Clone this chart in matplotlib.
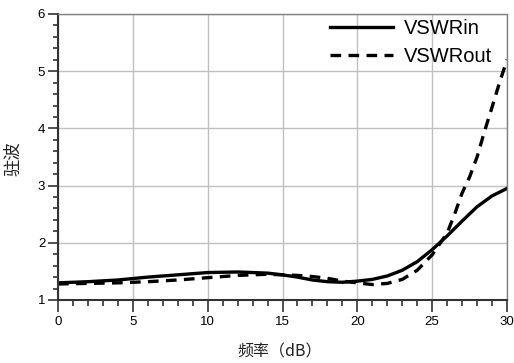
import matplotlib
matplotlib.use("Agg")
import matplotlib.pyplot as plt
from matplotlib.ticker import MultipleLocator

x_in = [0, 2, 4, 6, 8, 10, 12, 14, 15, 16, 17, 18, 19, 20, 21, 22, 23, 24, 25, 26, 27, 28, 29, 30]
vswr_in = [1.30, 1.32, 1.35, 1.40, 1.44, 1.48, 1.49, 1.47, 1.44, 1.40, 1.35, 1.32, 1.31, 1.33, 1.36,
           1.42, 1.52, 1.67, 1.88, 2.12, 2.38, 2.63, 2.82, 2.95]
x_out = [0, 2, 4, 6, 8, 10, 12, 14, 16, 17, 18, 19, 20, 21, 22, 23, 24, 25, 26, 26.5, 27, 27.5, 28,
         28.5, 29, 29.5, 30]
vswr_out = [1.28, 1.29, 1.30, 1.32, 1.35, 1.39, 1.43, 1.45, 1.43, 1.41, 1.38, 1.33, 1.30, 1.27, 1.29,
            1.36, 1.52, 1.79, 2.17, 2.50, 2.87, 3.15, 3.50, 3.95, 4.37, 4.80, 5.20]

plt.rcParams['font.family'] = ['Liberation Sans', 'Noto Sans CJK SC', 'DejaVu Sans']

W, H = 514, 363
fig = plt.figure(figsize=(W / 100, H / 100), dpi=100)
ax = fig.add_axes([58 / W, 1 - 300 / H, 449 / W, 286 / H])

ax.plot(x_in, vswr_in, color='black', lw=2.4, label='VSWRin')
ax.plot(x_out, vswr_out, color='black', lw=2.4, ls=(0, (3.2, 2.2)), label='VSWRout')

ax.set_xlim(0, 30)
ax.set_ylim(1, 6)
ax.xaxis.set_major_locator(MultipleLocator(5))
ax.xaxis.set_minor_locator(MultipleLocator(1))
ax.yaxis.set_major_locator(MultipleLocator(1))
ax.yaxis.set_minor_locator(MultipleLocator(0.2))
ax.grid(True, which='major', color='#c0c0c0', lw=1)
ax.set_axisbelow(True)

ax.tick_params(which='major', direction='out', width=1.2, color='#333333', labelsize=9.5)
ax.tick_params(which='minor', direction='out', width=1.2, color='#333333')
ax.tick_params(axis='y', which='major', length=7.2, pad=2)
ax.tick_params(axis='y', which='minor', length=3.8)
ax.tick_params(axis='x', which='major', length=8.3, pad=3.5)
ax.tick_params(axis='x', which='minor', length=4.5)
for s in ['top', 'right']:
    ax.spines[s].set_color('#808080')
    ax.spines[s].set_linewidth(1)
for s in ['left', 'bottom']:
    ax.spines[s].set_color('#333333')
    ax.spines[s].set_linewidth(1.5)

fig.text(13 / W, 1 - 159 / H, '驻波', rotation=90, ha='center', va='center',
         fontsize=12.5, family=['Noto Sans CJK SC'], color='#222222')
fig.text(280 / W, 1 - 352 / H, '频率（dB）', ha='center', va='center',
         fontsize=11.5, family=['Noto Sans CJK SC', 'Liberation Sans'], color='#222222')

leg = ax.legend(loc='upper right', bbox_to_anchor=((492 - 58) / 449, 1.0 - 5 / 286), frameon=False,
                fontsize=14.5, handlelength=3.1, borderpad=0, borderaxespad=0,
                labelspacing=0.45, handletextpad=0.55)

fig.savefig('out.png', dpi=100)
